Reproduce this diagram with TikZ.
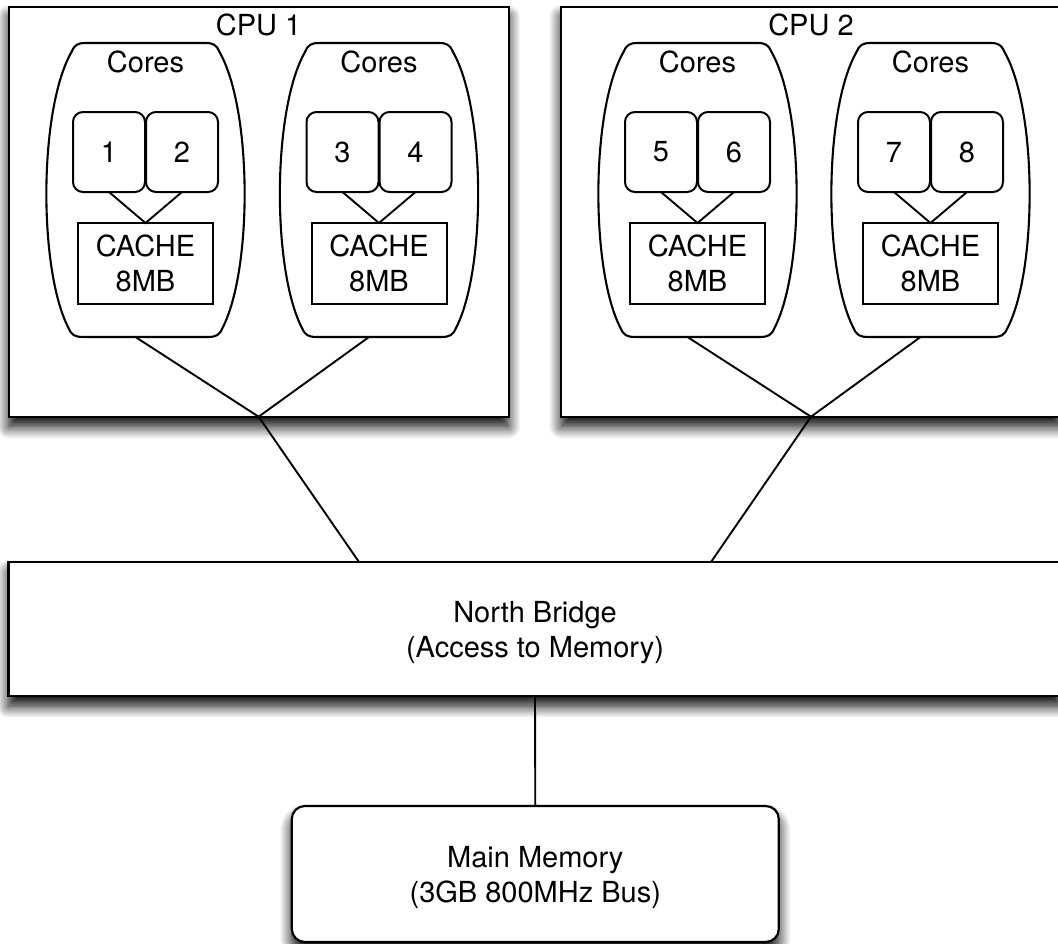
\documentclass[tikz,border=0pt]{standalone}
\usepackage{fontspec}
\setmainfont{TeX Gyre Heros}
\usetikzlibrary{calc,shadows.blur}

\tikzset{
  every node/.style={font=\fontsize{29}{35}\selectfont, inner sep=0pt, outer sep=0pt},
  frame/.style={draw, line width=2.2pt, fill=white},
  dropshadow/.style={blur shadow={shadow xshift=0pt, shadow yshift=-10pt,
      shadow blur radius=12pt, shadow opacity=100, shadow blur steps=14}},
  cpubox/.style={frame, dropshadow, minimum width=500pt, minimum height=410pt},
  corebox/.style={draw, line width=2pt, rounded corners=10pt,
      minimum width=72pt, minimum height=80pt},
  cachebox/.style={draw, line width=2pt, minimum width=135pt, minimum height=81pt,
      align=center, text depth=0pt},
  wire/.style={line width=1.9pt},
  % a barrel-shaped group of two cores sharing one cache
  pics/corepod/.style 2 args={code={
    \draw[line width=2.1pt] (-60,-147) -- (60,-147)
      .. controls (68,-147) and (71,-145) .. (74,-138)
      .. controls (107,-80) and (107,80) .. (77,138)
      .. controls (74,145) and (71,147) .. (62,147)
      -- (-62,147)
      .. controls (-71,147) and (-74,145) .. (-77,138)
      .. controls (-107,80) and (-107,-80) .. (-74,-138)
      .. controls (-71,-145) and (-68,-147) .. (-60,-147) -- cycle;
    \node[anchor=base] (-title) at (0,-118) {Cores};
    \node[corebox] (-a) at (-36.5,-38) {#1};
    \node[corebox] (-b) at (36.5,-38) {#2};
    \node[cachebox] (-cache) at (0,73.5) {CACHE\\8MB};
    \draw[wire] (-a.south) -- (-cache.north) -- (-b.south);
    \coordinate (-port) at (-10,147);
  }}
}

\begin{document}
\begin{tikzpicture}[x=1pt,y=-1pt]
\useasboundingbox (0,0) rectangle (1058,943);
\clip (0,0) rectangle (1058,943);

% processors
\node[cpubox] (cpu1) at (258.6,211.7) {};
\node[cpubox] (cpu2) at (811,211.7) {};
\node[anchor=base] (cpu1label) at (258.6,35) {CPU 1};
\node[anchor=base] (cpu2label) at (811,35) {CPU 2};

\pic (p1) at (145.5,190) {corepod={1}{2}};
\pic (p2) at (379,190) {corepod={3}{4}};
\pic (p3) at (697.5,190) {corepod={5}{6}};
\pic (p4) at (930.5,190) {corepod={7}{8}};

\draw[wire] (p1-port) -- (cpu1.south) -- (p2-port);
\draw[wire] (p3-port) -- (cpu2.south) -- (p4-port);

% chipset and memory
\node[frame, dropshadow, minimum width=1053pt, minimum height=134pt,
      align=center, text depth=0pt] (nb) at (535,629)
      {North Bridge\\(Access to Memory)};
\node[frame, dropshadow, rounded corners=13pt, minimum width=487pt,
      minimum height=136pt, align=center, text depth=0pt] (mem) at (535.3,874)
      {Main Memory\\(3GB 800MHz Bus)};

\draw[wire] (cpu1.south) -- ($(nb.north)+(-176,0)$);
\draw[wire] (cpu2.south) -- ($(nb.north)+(176,0)$);
\draw[wire] (nb.south) -- (mem.north);
\end{tikzpicture}
\end{document}
